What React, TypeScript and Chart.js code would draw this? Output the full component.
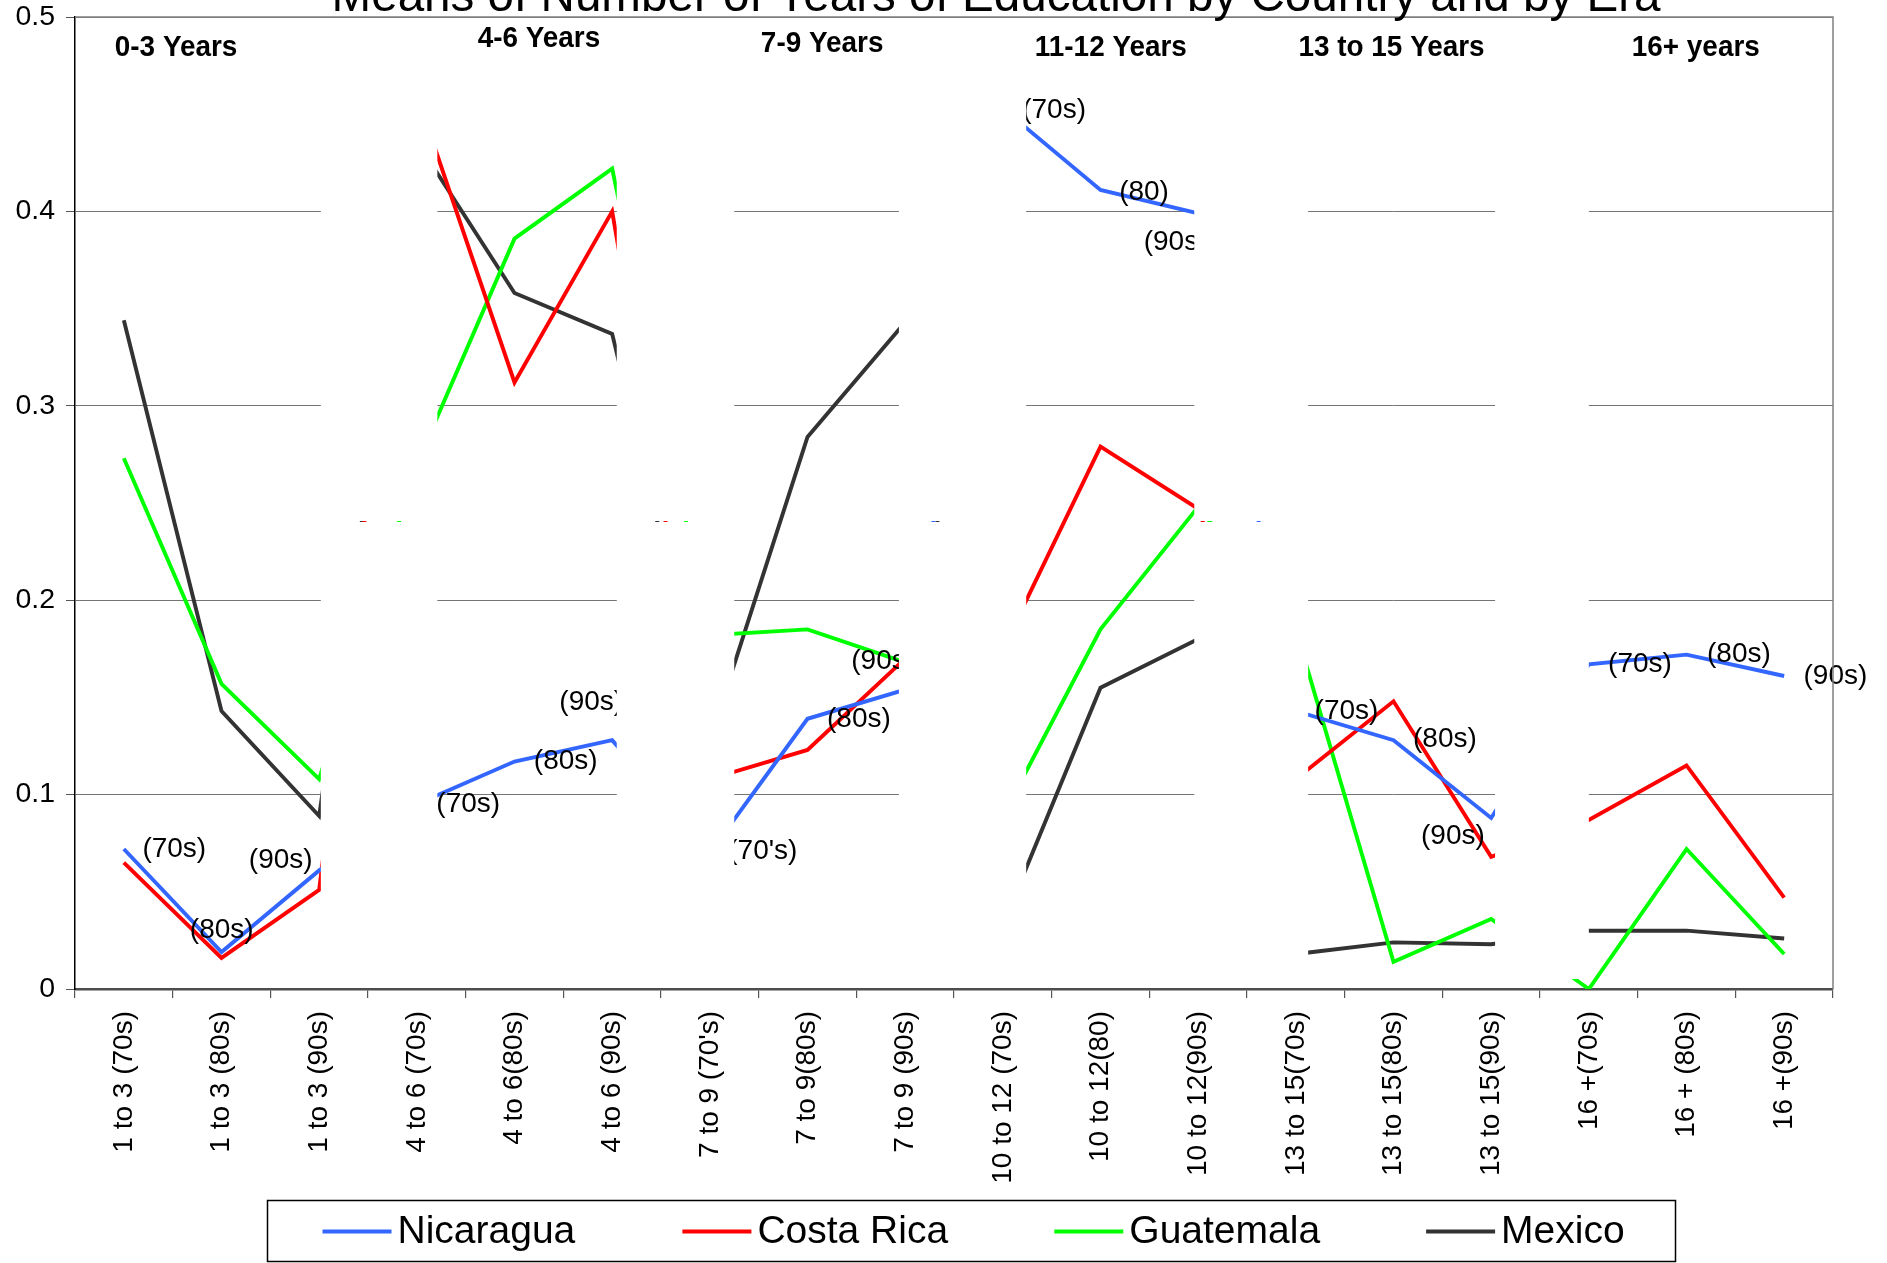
import React, { useEffect, useRef } from 'react';
import { Chart, registerables } from 'chart.js';

Chart.register(...registerables);

// ---- data ----
const categories = [
  '1 to 3 (70s)', '1 to 3 (80s)', '1 to 3 (90s)',
  '4 to 6 (70s)', '4 to 6(80s)', '4 to 6 (90s)',
  "7 to 9 (70's)", '7 to 9(80s)', '7 to 9 (90s)',
  '10 to 12 (70s)', '10 to 12(80)', '10 to 12(90s)',
  '13 to 15(70s)', '13 to 15(80s)', '13 to 15(90s)',
  '16 +(70s)', '16 + (80s)', '16 +(90s)',
];

const nicaragua = [0.072, 0.019, 0.061, 0.095, 0.117, 0.128, 0.070, 0.139, 0.154, 0.453, 0.411, 0.399, 0.143, 0.128, 0.088, 0.167, 0.172, 0.161];
const costaRica = [0.065, 0.016, 0.051, 0.460, 0.312, 0.400, 0.108, 0.123, 0.170, 0.175, 0.279, 0.247, 0.108, 0.148, 0.068, 0.087, 0.115, 0.047];
const guatemala = [0.273, 0.157, 0.108, 0.270, 0.386, 0.422, 0.182, 0.185, 0.168, 0.089, 0.185, 0.248, 0.185, 0.014, 0.036, 0.000, 0.072, 0.018];
const mexico = [0.344, 0.143, 0.089, 0.436, 0.358, 0.337, 0.128, 0.284, 0.343, 0.033, 0.155, 0.180, 0.018, 0.024, 0.023, 0.030, 0.030, 0.026];

const seriesNames = ['Nicaragua', 'Costa Rica', 'Guatemala', 'Mexico'];
const seriesColors = ['#3366ff', '#ff0000', '#00ff00', '#333333'];

const yTickValues = [0, 0.1, 0.2, 0.3, 0.4, 0.5];

const chartTitle = 'Means of Number of Years of Education by Country and by Era';
const groupHeaders = ['0-3 Years', '4-6 Years', '7-9 Years', '11-12 Years', '13 to 15 Years', '16+ years'];
const eraLabels = [
  '(70s)', '(80s)', '(90s)',
  '(70s)', '(80s)', '(90s)',
  "(70's)", '(80s)', '(90s)',
  '(70s)', '(80)', '(90s)',
  '(70s)', '(80s)', '(90s)',
  '(70s)', '(80s)', '(90s)',
];

// ---- layout (category position, axis value) ----
const headerAnchors = [[0.535, 0.484], [4.25, 0.4887], [7.15, 0.4864], [10.106, 0.484], [12.98, 0.484], [16.095, 0.484]];
const eraAnchors = [
  [0.19, 0.0717], [0.676, 0.0301], [1.28, 0.0664],
  [3.2, 0.0952], [4.198, 0.1173], [4.459, 0.1476],
  [6.189, 0.071], [7.2, 0.1389], [7.448, 0.1685],
  [9.198, 0.4522], [10.191, 0.41], [10.442, 0.384],
  [12.192, 0.143], [13.2, 0.1283], [13.282, 0.0787],
  [15.197, 0.1672], [16.21, 0.1723], [17.198, 0.161],
];
// white panels separating the education groups
const hiddenSpans = [[2.017, 3.21], [5.047, 6.25], [7.936, 9.239], [10.96, 12.126], [14.04, 15.0]];
const STRIP_VALUE = 0.24;

const FONT = '"Liberation Sans", Arial, Helvetica, sans-serif';

const overlayPlugin = {
  id: 'overlay',
  afterDatasetsDraw(chart: any) {
    const { ctx, chartArea: ca } = chart;
    const x = chart.scales.x;
    const y = chart.scales.y;
    ctx.save();

    // era annotations along the lines
    ctx.font = `28px ${FONT}`;
    ctx.fillStyle = '#000';
    ctx.textAlign = 'left';
    ctx.textBaseline = 'middle';
    eraLabels.forEach((t, i) => {
      const [p, v] = eraAnchors[i];
      ctx.fillText(t, x.getPixelForValue(p), y.getPixelForValue(v));
    });

    // white panels between groups
    ctx.fillStyle = '#ffffff';
    const yStrip = Math.round(y.getPixelForValue(STRIP_VALUE));
    const yTop = ca.top + 1.5;
    const yBottom = y.getPixelForValue(0) - 10;
    hiddenSpans.forEach(([a, b]) => {
      const x0 = x.getPixelForValue(a);
      const x1 = x.getPixelForValue(b);
      ctx.fillRect(x0, yTop, x1 - x0, yStrip - 1 - yTop);
      ctx.fillRect(x0, yStrip, x1 - x0, yBottom - yStrip);
    });

    // group headers
    ctx.fillStyle = '#000';
    ctx.font = `bold 30px ${FONT}`;
    ctx.textAlign = 'center';
    ctx.textBaseline = 'middle';
    groupHeaders.forEach((t, i) => {
      const [p, v] = headerAnchors[i];
      ctx.save();
      ctx.translate(x.getPixelForValue(p), y.getPixelForValue(v));
      ctx.scale(0.93, 1);
      ctx.fillText(t, 0, 0);
      ctx.restore();
    });

    // top and right frame
    ctx.strokeStyle = '#808080';
    ctx.lineWidth = 1.5;
    ctx.beginPath();
    ctx.moveTo(ca.left, ca.top);
    ctx.lineTo(ca.right, ca.top);
    ctx.lineTo(ca.right, ca.bottom);
    ctx.stroke();

    // title
    ctx.fillStyle = '#000';
    ctx.font = `47.6px ${FONT}`;
    ctx.textAlign = 'center';
    ctx.textBaseline = 'alphabetic';
    ctx.fillText(chartTitle, 996, 11);

    // legend
    const box = { left: 267.5, top: 1200.5, width: 1408, height: 61 };
    ctx.strokeStyle = '#000';
    ctx.lineWidth = 1.5;
    ctx.strokeRect(box.left, box.top, box.width, box.height);
    const itemStarts = [322.5, 682.4, 1054.3, 1426.1];
    const midY = 1231.5;
    ctx.font = `39px ${FONT}`;
    ctx.textAlign = 'left';
    ctx.textBaseline = 'middle';
    chart.data.datasets.forEach((ds: any, i: number) => {
      const sx = itemStarts[i];
      ctx.strokeStyle = ds.borderColor;
      ctx.lineWidth = 4;
      ctx.beginPath();
      ctx.moveTo(sx, midY);
      ctx.lineTo(sx + 69, midY);
      ctx.stroke();
      ctx.fillStyle = '#000';
      ctx.fillText(ds.label, sx + 75, midY + 1);
    });

    ctx.restore();
  },
};

export default function App() {
  const canvasRef = useRef<HTMLCanvasElement | null>(null);

  useEffect(() => {
    const canvas = canvasRef.current;
    if (!canvas) return;
    const seriesValues = [nicaragua, costaRica, guatemala, mexico];
    const chart = new Chart(canvas, {
      type: 'line',
      data: {
        labels: categories,
        datasets: seriesValues.map((vals, i) => ({
          label: seriesNames[i],
          data: vals,
          borderColor: seriesColors[i],
          backgroundColor: seriesColors[i],
          borderWidth: 3.9,
          pointRadius: 0,
          pointHoverRadius: 0,
          tension: 0,
          fill: false,
        })),
      },
      options: {
        responsive: false,
        animation: false,
        devicePixelRatio: 1,
        layout: { padding: { top: 17, right: 54, left: 0, bottom: 0 } },
        plugins: {
          legend: { display: false },
          title: { display: false },
          tooltip: { enabled: false },
        },
        events: [],
        scales: {
          x: {
            type: 'category',
            offset: true,
            grid: {
              offset: true,
              drawOnChartArea: false,
              drawTicks: true,
              tickLength: 9,
              tickColor: '#555555',
              lineWidth: 1.2,
            },
            border: { display: true, color: '#4d4d4d', width: 2.5 },
            ticks: {
              autoSkip: false,
              minRotation: 90,
              maxRotation: 90,
              padding: 13,
              color: '#000',
              font: { family: FONT, size: 28 },
            },
            afterFit: (scale: any) => {
              scale.height = 274;
              scale.paddingLeft = 0;
              scale.paddingRight = 0;
            },
          },
          y: {
            min: 0,
            max: 0.5,
            afterBuildTicks: (scale: any) => {
              scale.ticks = yTickValues.map((v) => ({ value: v }));
            },
            grid: {
              color: '#747474',
              lineWidth: 1,
              tickLength: 9,
              tickColor: '#555555',
            },
            border: { display: true, color: '#000', width: 1.5 },
            ticks: {
              padding: 11,
              color: '#000',
              font: { family: FONT, size: 28.5 },
              callback: (v: any) => String(Number(Number(v).toFixed(1))),
            },
            afterFit: (scale: any) => {
              scale.width = 75;
              scale.paddingTop = 0;
              scale.paddingBottom = 0;
            },
          },
        },
      },
      plugins: [overlayPlugin],
    });
    return () => chart.destroy();
  }, []);

  return (
    <div style={{ position: 'fixed', left: 0, top: 0, width: 1887, height: 1263, background: '#fff' }}>
      <canvas ref={canvasRef} width={1887} height={1263} style={{ display: 'block' }} />
    </div>
  );
}
